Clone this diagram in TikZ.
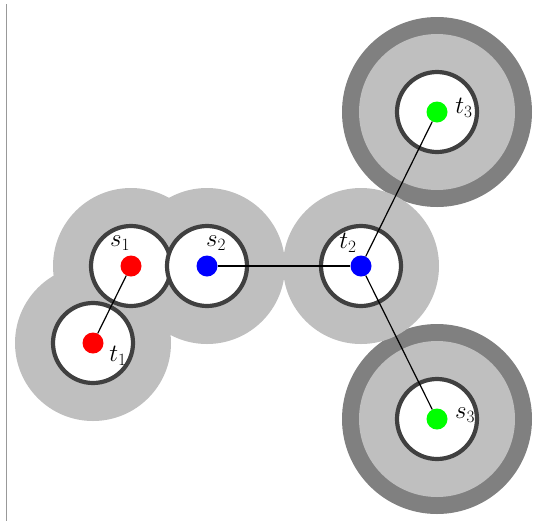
\documentclass[tikz,border=0pt]{standalone}
\begin{document}
\begin{tikzpicture}[x=1pt,y=-1pt,
  halo/.style={circle,fill=gray!50,draw=none,minimum size=156pt,inner sep=0pt},
  ring/.style={circle,fill=gray,draw=none,minimum size=190pt,inner sep=0pt},
  disc/.style={circle,fill=white,draw=black!75,line width=4.2pt,minimum size=80pt,inner sep=0pt},
  dot/.style={circle,minimum size=21pt,inner sep=0pt},
  lab/.style={font=\fontsize{23}{27}\selectfont},
  conn/.style={line width=1.2pt}]
\useasboundingbox (0,0) rectangle (541,523);
\draw[gray!80,line width=1pt] (6,4) -- (6,521);
% outer rings
\node[ring] (r3) at (437,112) {};
\node[ring] (r4) at (437,419) {};
% grey halos
\foreach \n/\x/\y in {hs1/131/266, ht1/93/343, hs2/207/266, ht2/361/266, ht3/437/112, hs3/437/419}
  \node[halo] (\n) at (\x,\y) {};
% white discs
\foreach \n/\x/\y in {cs1/131/266, ct1/93/343, cs2/207/266, ct2/361/266, ct3/437/112, cs3/437/419}
  \node[disc] (\n) at (\x,\y) {};
% dots
\node[dot,fill=red] (s1) at (131,266) {};
\node[dot,fill=red] (t1) at (93,343) {};
\node[dot,fill=blue] (s2) at (207,266) {};
\node[dot,fill=blue] (t2) at (361,266) {};
\node[dot,fill=green] (t3) at (437,112) {};
\node[dot,fill=green] (s3) at (437,419) {};
% connectors
\draw[conn] (s1) -- (t1);
\draw[conn] (s2) -- (t2);
\draw[conn] (t2) -- (t3);
\draw[conn] (t2) -- (s3);
% labels
\node[lab] (ls1) at (120,243) {$s_1$};
\node[lab] (lt1) at (118,356) {$t_1$};
\node[lab] (ls2) at (216,243) {$s_2$};
\node[lab] (lt2) at (348,243) {$t_2$};
\node[lab] (lt3) at (464,108) {$t_3$};
\node[lab] (ls3) at (465,415) {$s_3$};
\end{tikzpicture}
\end{document}
